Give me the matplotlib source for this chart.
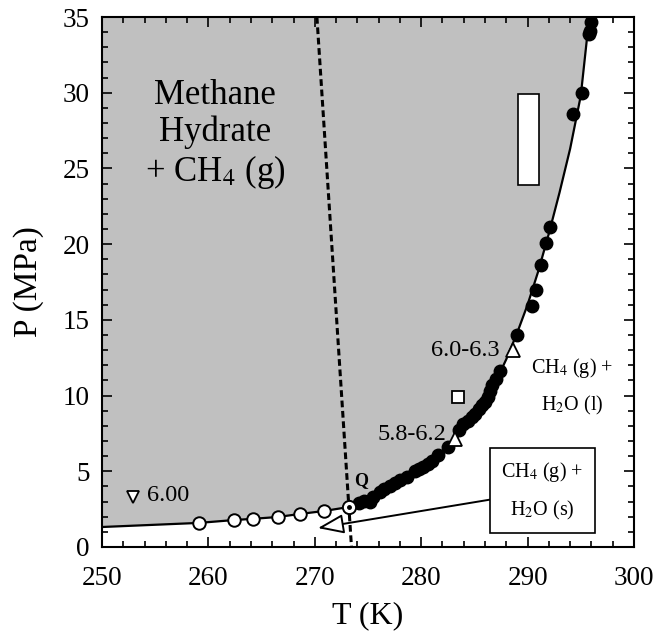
import matplotlib
matplotlib.use("Agg")
import matplotlib.pyplot as plt
from matplotlib.patches import Rectangle
from matplotlib.ticker import MultipleLocator

plt.rcParams["font.family"] = ["Liberation Serif", "DejaVu Serif"]
plt.rcParams["mathtext.fontset"] = "stix"

# ice + gas line (open circles), ends at quadruple point Q
ice_T = [259.1, 262.4, 264.2, 266.5, 268.6, 270.9]
ice_P = [1.59, 1.78, 1.86, 1.98, 2.18, 2.38]
ice_start = (250.0, 1.32)
Q = (273.2, 2.64)

# hydrate equilibrium curve
curve_T = [273.2, 274, 275, 276, 277, 278, 279, 280, 281, 282, 283, 284, 285, 286,
           287, 288, 289, 290, 291, 292, 293, 294, 295, 295.8, 296.1]
curve_P = [2.64, 2.88, 3.17, 3.52, 3.92, 4.33, 4.78, 5.25, 5.75, 6.32, 6.95, 7.7, 8.55, 9.6,
           10.9, 12.4, 14.1, 16.0, 18.2, 20.7, 23.4, 26.3, 29.8, 35.0, 36.5]

# measured hydrate points (filled circles)
hyd_T = [274.2, 274.6, 275.2, 275.5, 276.1, 276.5, 277.1, 277.5, 278.0, 278.7, 279.4, 279.8,
         280.2, 280.6, 281.0, 281.6, 282.5, 283.6, 283.9, 284.4, 284.8, 285.1, 285.4, 285.7,
         286.0, 286.3, 286.5, 286.7, 287.0, 287.4, 289.0, 290.4, 290.8, 291.3, 291.7, 292.1,
         294.3, 295.1, 295.8, 295.9, 296.0]
hyd_P = [2.9, 3.05, 3.0, 3.3, 3.6, 3.8, 4.0, 4.2, 4.4, 4.6, 5.0, 5.15,
         5.3, 5.5, 5.7, 6.1, 6.6, 7.7, 8.1, 8.3, 8.6, 8.8, 9.1, 9.4,
         9.6, 9.9, 10.3, 10.7, 11.1, 11.6, 14.0, 15.9, 17.0, 18.6, 20.1, 21.1,
         28.6, 30.0, 33.9, 34.1, 34.7]

# ice melting line (dashed)
melt_T = [270.2, 273.45]
melt_P = [35.0, 0.0]

# other data
tri_T = [288.6, 283.2]
tri_P = [13.0, 7.1]
tri_labels = ["6.0-6.3", "5.8-6.2"]
down_T, down_P = 252.9, 3.3
square_T, square_P = 283.5, 9.9
rect_T = (289.1, 291.1)
rect_P = (23.9, 29.9)

xmin, xmax = 250, 300
ymin, ymax = 0, 35

fig = plt.figure(figsize=(6.55, 6.37), dpi=100)
ax = fig.add_axes([0.1557, 0.1413, 0.8122, 0.8320])

line_T = [ice_start[0]] + ice_T + [Q[0]]
line_P = [ice_start[1]] + ice_P + [Q[1]]

# gray hydrate stability region
fill_T = line_T + curve_T[1:] + [xmin]
fill_P = line_P + curve_P[1:] + [curve_P[-1]]
ax.fill(fill_T, fill_P, color="#c0c0c0", lw=0, zorder=0)

ax.plot(melt_T, melt_P, color="black", lw=2.2, linestyle=(0, (2.2, 1.2)), zorder=2)
ax.plot(line_T, line_P, color="black", lw=1.6, zorder=2)
ax.plot(curve_T, curve_P, color="black", lw=1.6, zorder=2)

ax.plot(hyd_T, hyd_P, "o", color="black", ms=9, zorder=3)
ax.plot(ice_T, ice_P, "o", mfc="white", mec="black", mew=1.4, ms=9, zorder=3)
ax.plot([Q[0]], [Q[1]], "o", mfc="white", mec="black", mew=1.4, ms=9.5, zorder=4)
ax.plot([Q[0]], [Q[1]], "o", color="black", ms=2.5, zorder=5)
ax.plot(tri_T, tri_P, "^", mfc="white", mec="black", mew=1.3, ms=10, zorder=4)
ax.plot([down_T], [down_P], "v", mfc="white", mec="black", mew=1.3, ms=9, zorder=4)
ax.plot([square_T], [square_P], "s", mfc="white", mec="black", mew=1.3, ms=9, zorder=4)
ax.add_patch(Rectangle((rect_T[0], rect_P[0]), rect_T[1] - rect_T[0], rect_P[1] - rect_P[0],
                       facecolor="white", edgecolor="black", lw=1.2, zorder=3))

# labels
ax.text(260.6, 27.2, "Methane\nHydrate\n+ CH$_4$ (g)", fontsize=25, ha="center", va="center",
        linespacing=1.15, zorder=6)
ax.text(274.4, 4.4, "Q", fontsize=13, fontweight="bold", ha="center", va="center", zorder=6)
ax.text(287.4, 13.0, tri_labels[0], fontsize=17.5, ha="right", va="center", zorder=6)
ax.text(282.4, 7.4, tri_labels[1], fontsize=17.5, ha="right", va="center", zorder=6)
ax.text(254.2, 3.4, "6.00", fontsize=17.5, ha="left", va="center", zorder=6)
ax.text(294.2, 10.6, "CH$_4$ (g) +\nH$_2$O (l)", fontsize=14.5, ha="center", va="center",
        linespacing=1.9, zorder=6)
ax.annotate("CH$_4$ (g) +\nH$_2$O (s)", xy=(270.3, 1.25), xytext=(291.4, 3.7),
            fontsize=14.5, ha="center", va="center", linespacing=1.9, zorder=6,
            bbox=dict(boxstyle="square,pad=0.55", fc="white", ec="black", lw=1.2),
            arrowprops=dict(arrowstyle="-|>,head_length=0.8,head_width=0.3", fc="white",
                            ec="black", lw=1.4, mutation_scale=20, shrinkA=0, shrinkB=0))

ax.set_xlim(xmin, xmax)
ax.set_ylim(ymin, ymax)
ax.xaxis.set_major_locator(MultipleLocator(10))
ax.xaxis.set_minor_locator(MultipleLocator(2))
ax.yaxis.set_major_locator(MultipleLocator(5))
ax.yaxis.set_minor_locator(MultipleLocator(1))
ax.tick_params(which="both", direction="in", top=True, right=True, width=1.2, labelsize=19.5)
ax.tick_params(which="major", length=7.5)
ax.tick_params(which="minor", length=4.5)
ax.tick_params(axis="x", pad=14)
ax.tick_params(axis="y", pad=9)
for s in ax.spines.values():
    s.set_linewidth(1.5)

ax.set_xlabel("T (K)", fontsize=23, labelpad=7)
ax.set_ylabel("P (MPa)", fontsize=24, labelpad=13)

plt.savefig("out.png", dpi=100)
